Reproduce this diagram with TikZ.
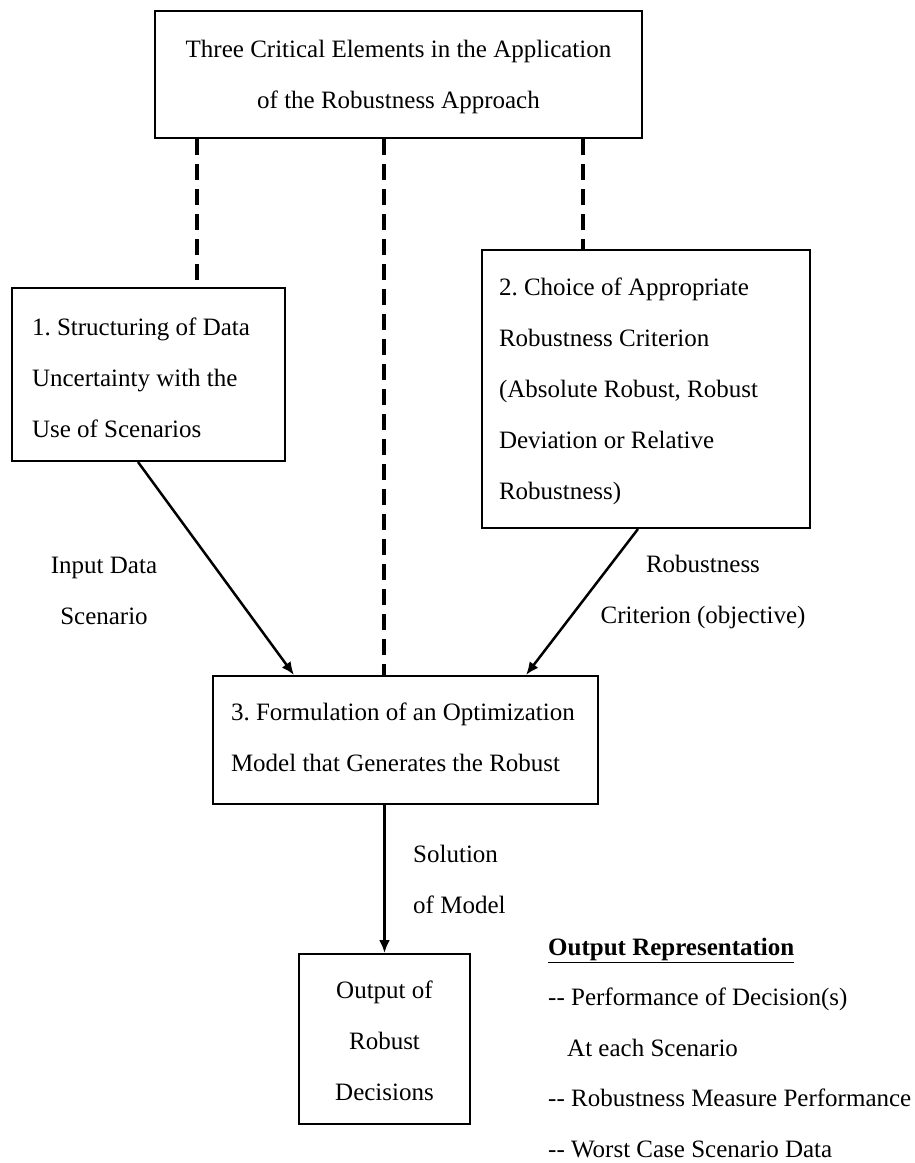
\documentclass[tikz,border=0pt]{standalone}
\usepackage{fontspec}
\setmainfont{Liberation Serif}
\usetikzlibrary{arrows.meta}
% fixed-size text block: #1 width, #2 height, #3 first-line height, #4 alignment, #5 text
\newcommand{\boxtext}[5]{\parbox[c][#2][t]{#1}{#4\rule{0pt}{#3}#5}}
% free text block hung from its top edge: #1 width, #2 alignment, #3 text
\newcommand{\hangtext}[3]{\parbox[t]{#1}{#2\rule{0pt}{30pt}#3}}
\begin{document}
\begin{tikzpicture}[x=1pt,y=-1pt,
  every node/.style={font=\fontsize{25}{51}\selectfont\frenchspacing},
  frame/.style={draw, line width=2pt, inner ysep=0pt},
  flow/.style={line width=2.5pt, -{Latex[length=13pt,width=11pt]}},
  link/.style={line width=3.6pt, dash pattern=on 16pt off 9pt},
  lbl/.style={inner sep=0pt}]
\useasboundingbox (0,0) rectangle (915,1163);

% boxes
\node[frame, inner xsep=0pt] (top) at (398.5,74.5)
  {\boxtext{487pt}{127pt}{46pt}{\centering}{Three Critical Elements in the Application\\of the Robustness Approach}};
\node[frame, inner xsep=20pt] (b1) at (148.5,374.5)
  {\boxtext{233pt}{173pt}{47pt}{\raggedright}{1. Structuring of Data\\Uncertainty with the\\Use of Scenarios}};
\node[frame, inner xsep=17pt] (b2) at (646,389)
  {\boxtext{294pt}{278pt}{45pt}{\raggedright}{2. Choice of Appropriate\\Robustness Criterion\\(Absolute Robust, Robust\\Deviation or Relative\\Robustness)}};
\node[frame, inner xsep=18pt] (b3) at (405.5,740)
  {\boxtext{349pt}{128pt}{44pt}{\raggedright}{3. Formulation of an Optimization\\Model that Generates the Robust}};
\node[frame, inner xsep=0pt] (b4) at (384.5,1039)
  {\boxtext{171pt}{170pt}{44pt}{\centering}{Output of\\Robust\\Decisions}};

% connector labels and output list (first baseline 30pt below the anchor)
\node[lbl, anchor=north] (inlbl) at (104,543)
  {\hangtext{200pt}{\centering}{Input Data\\Scenario}};
\node[lbl, anchor=north] (critlbl) at (703,542)
  {\hangtext{260pt}{\centering}{Robustness\\Criterion (objective)}};
\node[lbl, anchor=north west] (sollbl) at (413,832)
  {\hangtext{150pt}{\raggedright}{Solution\\of Model}};
\node[lbl, anchor=north west, font=\fontsize{25}{50.5}\selectfont\frenchspacing] (outrep) at (548,925)
  {\hangtext{367pt}{\raggedright}{\underline{\textbf{Output Representation}}\\
   -{}- Performance of Decision(s)\\
   \hspace*{19pt}At each Scenario\\
   -{}- Robustness Measure Performance\\
   -{}- Worst Case Scenario Data}};

% dashed links from the heading box
\draw[link] ([xshift=43pt]top.south west) -- ([xshift=43pt]top.south west |- b1.north);
\draw[link] ([xshift=230pt]top.south west) -- ([xshift=230pt]top.south west |- b3.north);
\draw[link] ([xshift=429pt]top.south west) -- ([xshift=429pt]top.south west |- b2.north);

% flow arrows
\draw[flow] ([xshift=-10.5pt]b1.south) -- ([xshift=82pt]b3.north west);
\draw[flow] ([xshift=-8pt]b2.south) -- ([xshift=314pt]b3.north west);
\draw[flow] (b3.south -| b4.north) -- (b4.north);
\end{tikzpicture}
\end{document}
